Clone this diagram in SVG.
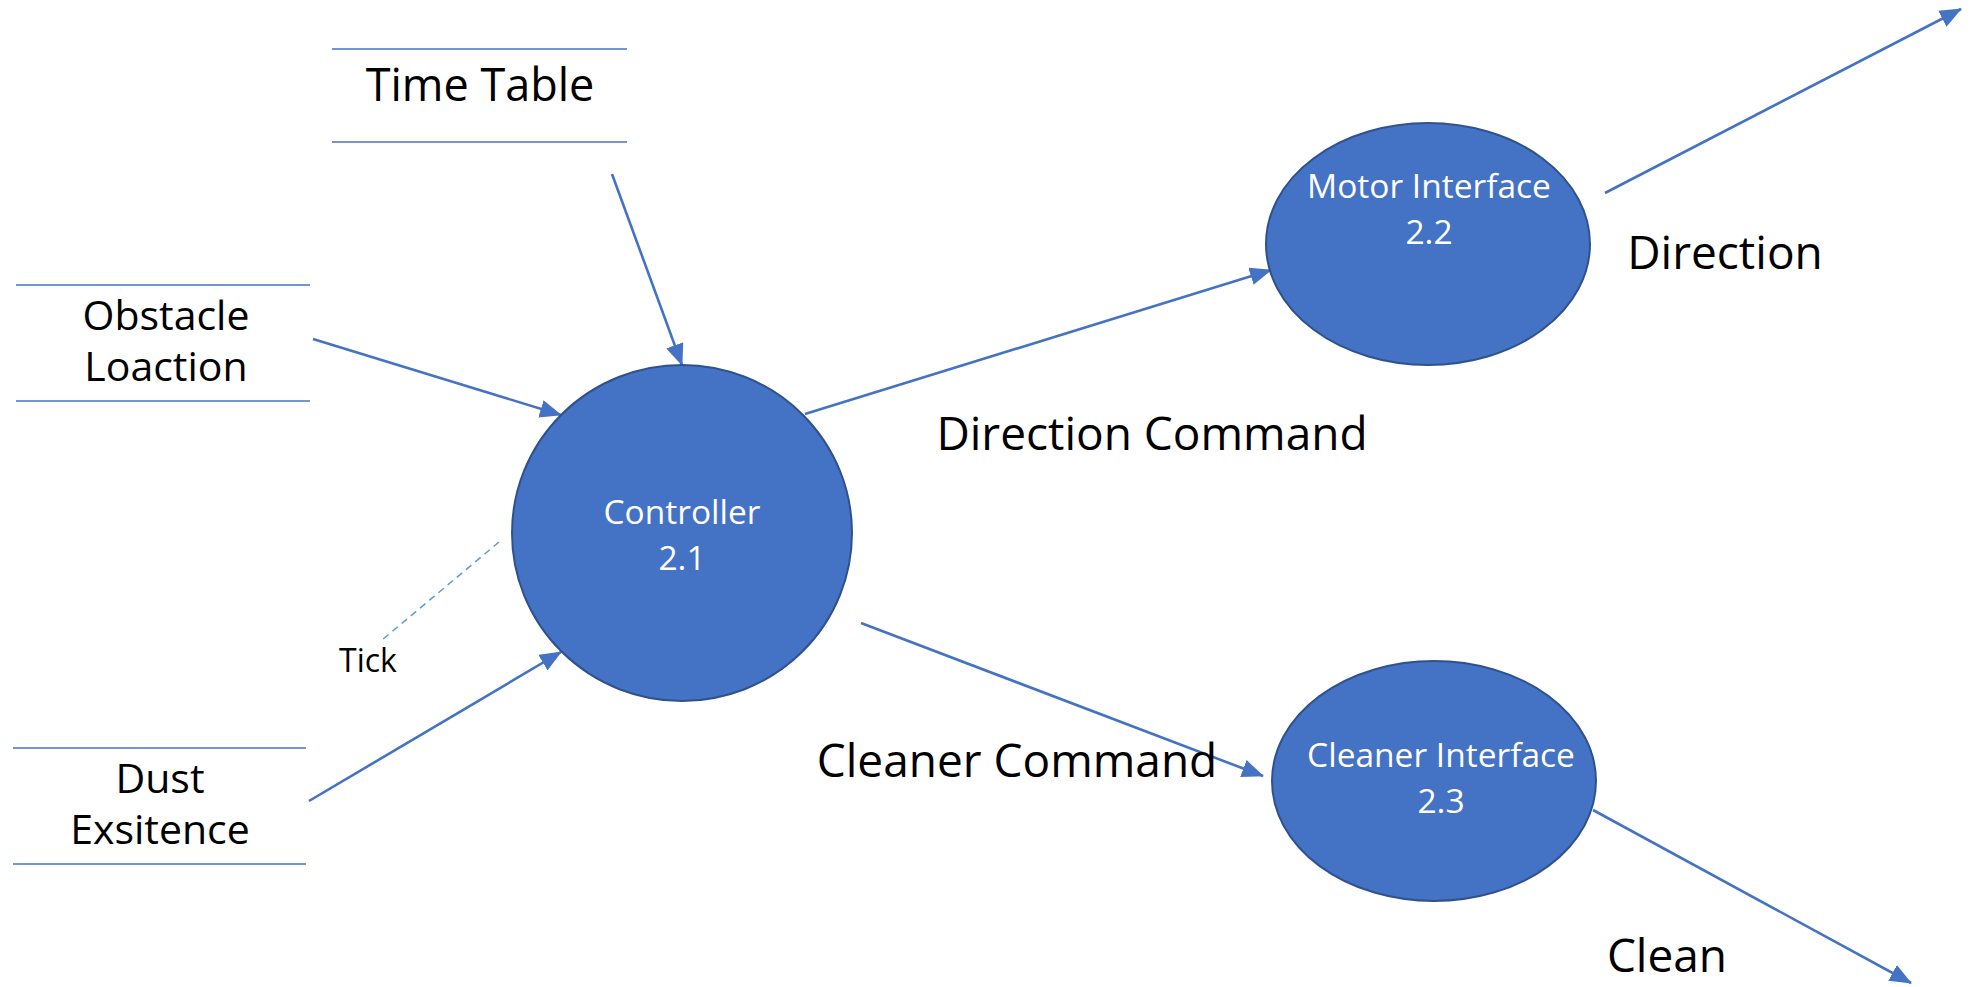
<svg xmlns="http://www.w3.org/2000/svg" width="1977" height="987" viewBox="0 0 1977 987">
<style>
.bg{fill:#ffffff}
.proc{fill:#4472C4;stroke:#2F528F;stroke-width:2}
.ntxt{font-family:"Open Sans","Noto Sans","Liberation Sans",sans-serif;font-size:33.5px;fill:#ffffff;text-anchor:middle}
.store{stroke:#4472C4;stroke-width:1.5;fill:none}
.stxt{font-family:"Open Sans","Noto Sans","Liberation Sans",sans-serif;font-size:41px;fill:#000000;text-anchor:middle}
.ltxt{font-family:"Open Sans","Noto Sans","Liberation Sans",sans-serif;font-size:46px;fill:#000000;text-anchor:middle}
.flow{stroke:#4472C4;stroke-width:2.6;fill:none;marker-end:url(#arr)}
.dash{stroke:#5B9BD5;stroke-width:1.5;stroke-dasharray:7 5;fill:none}
</style>
<defs>
<marker id="arr" markerUnits="userSpaceOnUse" markerWidth="22" markerHeight="18" refX="21" refY="9" orient="auto">
<path d="M0,0 L22,9 L0,18 Z" fill="#4472C4"/>
</marker>
</defs>
<rect class="bg" x="0" y="0" width="1977" height="987"/>

<g id="connectors">
<line class="flow" x1="612" y1="174" x2="682" y2="365"/>
<line class="flow" x1="313" y1="339" x2="561" y2="415"/>
<line class="flow" x1="309" y1="801" x2="561" y2="652"/>
<line class="flow" x1="805" y1="414" x2="1271" y2="270"/>
<line class="flow" x1="861" y1="623" x2="1263" y2="776"/>
<line class="flow" x1="1605" y1="193" x2="1961" y2="9"/>
<line class="flow" x1="1593" y1="810" x2="1911" y2="983"/>
<line class="dash" x1="499" y1="542" x2="382" y2="640"/>
<text class="ltxt" x="1152" y="450">Direction Command</text>
<text class="ltxt" x="1017" y="777">Cleaner Command</text>
<text class="ltxt" x="1725" y="269">Direction</text>
<text class="ltxt" x="1667" y="972">Clean</text>
<text class="stxt" x="368" y="672" style="font-size:32px">Tick</text>
</g>

<g id="timetable">
<line class="store" x1="332" y1="49" x2="627" y2="49"/>
<line class="store" x1="332" y1="142" x2="627" y2="142"/>
<text class="stxt" x="480" y="101" style="font-size:45px">Time Table</text>
</g>

<g id="obstacle">
<line class="store" x1="16" y1="285" x2="310" y2="285"/>
<line class="store" x1="16" y1="401" x2="310" y2="401"/>
<text class="stxt" x="166" y="330"><tspan x="166" y="330">Obstacle</tspan><tspan x="166" y="381">Loaction</tspan></text>
</g>

<g id="dust">
<line class="store" x1="13" y1="748" x2="306" y2="748"/>
<line class="store" x1="13" y1="864" x2="306" y2="864"/>
<text class="stxt" x="160" y="793"><tspan x="160" y="793">Dust</tspan><tspan x="160" y="844">Exsitence</tspan></text>
</g>

<g id="controller">
<ellipse class="proc" cx="682" cy="533" rx="170" ry="168"/>
<text class="ntxt" x="682" y="524"><tspan x="682" y="524">Controller</tspan><tspan x="682" y="570">2.1</tspan></text>
</g>

<g id="motor">
<ellipse class="proc" cx="1428" cy="244" rx="162" ry="121"/>
<text class="ntxt" x="1429" y="198"><tspan x="1429" y="198">Motor Interface</tspan><tspan x="1429" y="244">2.2</tspan></text>
</g>

<g id="cleaner">
<ellipse class="proc" cx="1434" cy="781" rx="162" ry="120"/>
<text class="ntxt" x="1441" y="767"><tspan x="1441" y="767">Cleaner Interface</tspan><tspan x="1441" y="813">2.3</tspan></text>
</g>
</svg>
